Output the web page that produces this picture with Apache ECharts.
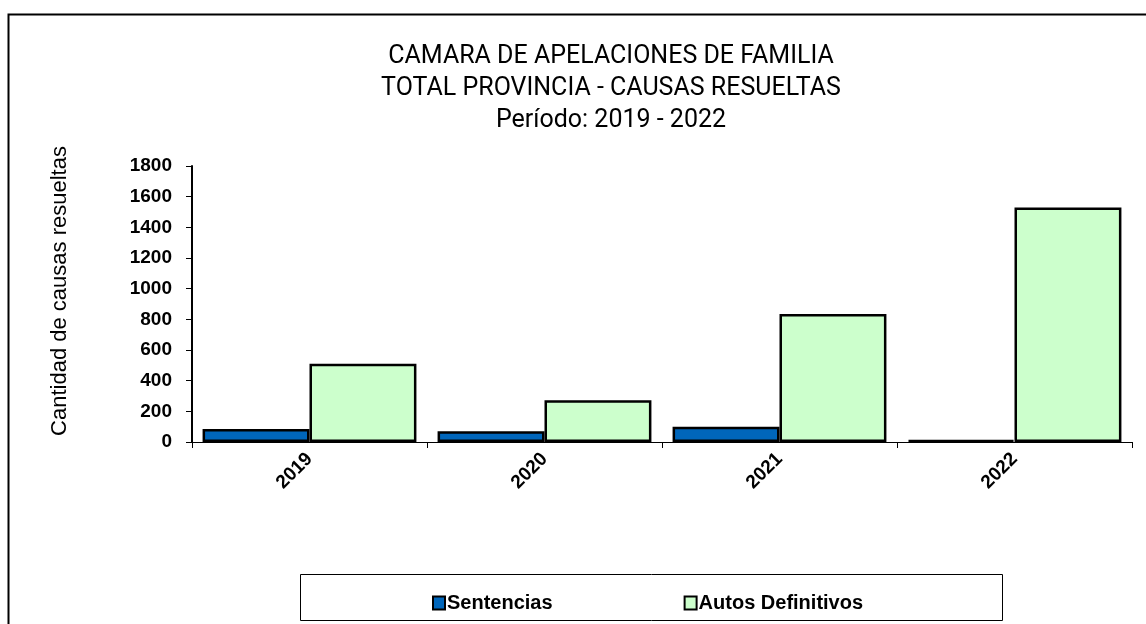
<!DOCTYPE html>
<html>
<head>
<meta charset="utf-8">
<script src="https://cdn.jsdelivr.net/npm/echarts@6/dist/echarts.min.js"></script>
<style>
  html, body { margin: 0; padding: 0; background: #fff; }
  #chart { width: 1146px; height: 624px; }
</style>
</head>
<body>
<div id="chart"></div>
<script>
// values
const years = ['2019', '2020', '2021', '2022'];
const sentencias = [85, 70, 100, 12];
const autosDefinitivos = [510, 272, 835, 1530];
const yTicks = { min: 0, max: 1800, interval: 200 };
const yTitle = 'Cantidad de causas resueltas';

const chart = echarts.init(document.getElementById('chart'));

chart.setOption({
    animation: false,
    backgroundColor: '#fff',
    title: {
        text: 'CAMARA DE APELACIONES DE FAMILIA\nTOTAL PROVINCIA - CAUSAS RESUELTAS\nPeríodo: 2019 - 2022',
        left: 606,
        top: 36,
        textAlign: 'center',
        textStyle: {
            fontFamily: 'Roboto',
            fontWeight: 'normal',
            fontSize: 25,
            lineHeight: 32,
            color: '#000'
        }
    },
    graphic: [
        {
            type: 'rect',
            shape: { x: 8.5, y: 14.5, width: 1160, height: 640 },
            style: { fill: 'none', stroke: '#000', lineWidth: 2 },
            z: -1
        },
        {
            type: 'rect',
            shape: { x: 300.5, y: 574.5, width: 702, height: 46 },
            style: { fill: '#fff', stroke: '#000', lineWidth: 1 },
            z: 0
        },
        {
            type: 'text',
            x: 60,
            y: 291,
            rotation: Math.PI / 2,
            style: {
                text: yTitle,
                fontFamily: 'Liberation Sans',
                fontSize: 22,
                fill: '#000',
                align: 'center',
                verticalAlign: 'middle'
            }
        }
    ],
    legend: {
        left: 427,
        top: 588,
        itemWidth: 12,
        itemHeight: 13,
        itemGap: 131,
        icon: 'rect',
        z: 5,
        textStyle: {
            fontFamily: 'Liberation Sans',
            fontWeight: 'bold',
            fontSize: 20,
            color: '#000',
            padding: [0, 0, 0, -3]
        },
        data: ['Sentencias', 'Autos Definitivos']
    },
    grid: {
        left: 192,
        right: 14,
        top: 166,
        bottom: 182
    },
    xAxis: {
        type: 'category',
        data: years,
        axisLine: { lineStyle: { color: '#000', width: 1 } },
        axisTick: { show: true, alignWithLabel: false, length: 6, lineStyle: { color: '#000' } },
        axisLabel: {
            rotate: 45,
            margin: 14,
            fontFamily: 'Liberation Sans',
            fontWeight: 'bold',
            fontSize: 19,
            color: '#000'
        }
    },
    yAxis: {
        type: 'value',
        min: yTicks.min,
        max: yTicks.max,
        interval: yTicks.interval,
        axisLine: { show: true, lineStyle: { color: '#000', width: 2 } },
        axisTick: { show: true, length: 6, lineStyle: { color: '#000' } },
        splitLine: { show: false },
        axisLabel: {
            margin: 20,
            formatter: v => String(v),
            fontFamily: 'Liberation Sans',
            fontWeight: 'bold',
            fontSize: 19,
            color: '#000'
        }
    },
    series: [
        {
            name: 'Sentencias',
            type: 'bar',
            data: sentencias,
            barGap: '0%',
            barCategoryGap: '9%',
            itemStyle: { color: '#0066bb', borderColor: '#000', borderWidth: 2.5 }
        },
        {
            name: 'Autos Definitivos',
            type: 'bar',
            data: autosDefinitivos,
            barGap: '0%',
            barCategoryGap: '9%',
            itemStyle: { color: '#ccffcc', borderColor: '#000', borderWidth: 2.5 }
        }
    ]
});
</script>
</body>
</html>
